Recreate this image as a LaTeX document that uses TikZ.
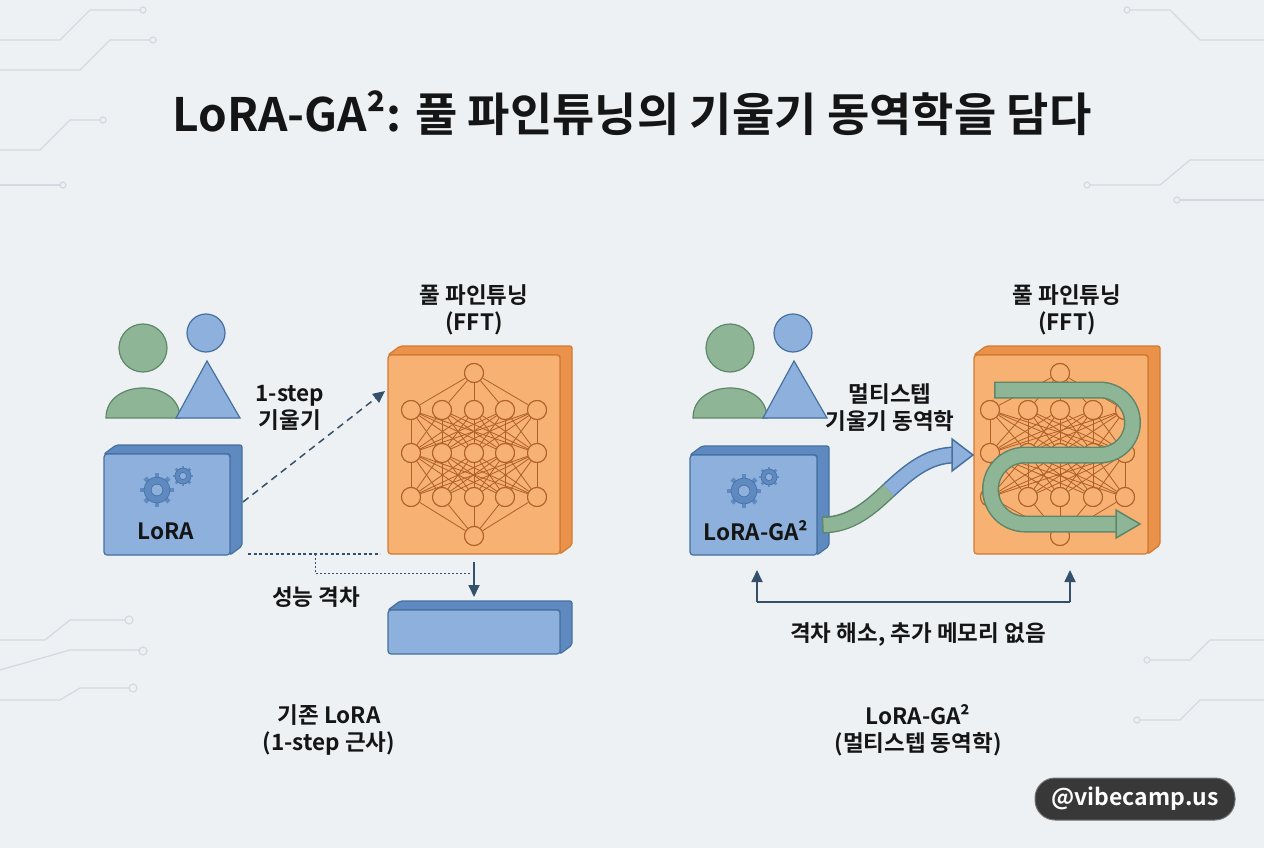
\documentclass[tikz,border=0pt]{standalone}
\usepackage{fontspec}
\setmainfont{Noto Sans CJK KR}[BoldFont={Noto Sans CJK KR Bold}]
\usetikzlibrary{arrows.meta}
\definecolor{bg}{HTML}{EEF1F4}
\definecolor{bfill}{HTML}{8DB0DC}
\definecolor{bside}{HTML}{5F89C1}
\definecolor{bedge}{HTML}{46709F}
\definecolor{ofill}{HTML}{F7B172}
\definecolor{oside}{HTML}{EA9249}
\definecolor{oedge}{HTML}{D27A33}
\definecolor{net}{HTML}{B05F28}
\definecolor{gfill}{HTML}{8FB597}
\definecolor{gedge}{HTML}{5E8769}
\definecolor{dark}{HTML}{34506B}
\definecolor{circ}{HTML}{D3D9E0}
\definecolor{txt}{HTML}{151515}
\tikzset{
 lbl/.style={font=\fontsize{22.5}{27}\selectfont\bfseries, text=txt, align=center},
 nn/.style={circle, draw=net, fill=ofill, line width=1pt, minimum size=19pt, inner sep=0pt},
 nl/.style={draw=net, line width=0.8pt},
 darr/.style={draw=dark, line width=1.8pt, -{Triangle[length=12pt,width=11pt]}},
 cl/.style={draw=circ, line width=1.2pt},
}
\newcommand{\boxthreeD}[7]{% x1 ybottom x2 ytop fill side edge
 \draw[#7, line width=1.2pt, fill=#6, rounded corners=2pt] (#1,#4) -- (#1+12,#4-9) -- (#3+12,#4-9) -- (#3+12,#2-9) -- (#3,#2) -- (#3,#4) -- cycle;
 \draw[#7, line width=1.2pt, fill=#5, rounded corners=3pt] (#1,#2) rectangle (#3,#4);}
\newcommand{\gear}[3]{% x y r
 \begin{scope}[shift={(#1,#2)}]
 \foreach \a in {0,45,...,315}{\fill[bside, rotate=\a] (-0.17*#3,0) rectangle (0.17*#3,1.3*#3);}
 \fill[bside] (0,0) circle (#3);
 \draw[bedge, line width=0.6pt] (0,0) circle (#3);
 \fill[bfill] (0,0) circle (0.45*#3);
 \draw[bedge, line width=0.6pt] (0,0) circle (0.45*#3);
 \end{scope}}
\newcommand{\person}[2]{%
 \begin{scope}[shift={(#1,0)}]
 \draw[gedge, fill=gfill, line width=1.2pt] (0,348) circle (24);
 \draw[gedge, fill=gfill, line width=1.2pt] (-37,418) .. controls (-37,378) and (37,378) .. (37,418) -- cycle;
 \draw[bedge, fill=bfill, line width=1.2pt] (63,333) circle (19);
 \draw[bedge, fill=bfill, line width=1.2pt] (33,418) -- (64,361) -- (97,418) -- cycle;
 \end{scope}}
\begin{document}
\begin{tikzpicture}[x=1pt,y=-1pt]
\fill[bg] (0,0) rectangle (1264,848);
\useasboundingbox (0,0) rectangle (1264,848);
% circuit decorations
\draw[cl] (0,40) -- (60,40) -- (90,10) -- (140,10); \draw[cl] (143,10) circle (3);
\draw[cl] (0,70) -- (80,70) -- (110,40) -- (150,40); \draw[cl] (153,40) circle (3);
\draw[cl] (0,150) -- (40,150) -- (70,120) -- (100,120); \draw[cl] (103,120) circle (3);
\draw[cl] (0,185) -- (60,185); \draw[cl] (63,185) circle (3);
\draw[cl] (1264,40) -- (1200,40) -- (1170,10) -- (1130,10); \draw[cl] (1127,10) circle (3);
\draw[cl] (1264,160) -- (1190,160) -- (1160,185) -- (1090,185); \draw[cl] (1087,185) circle (3);
\draw[cl] (1264,200) -- (1180,200); \draw[cl] (1177,200) circle (3);
\draw[cl] (0,640) -- (45,640) -- (70,620) -- (125,620); \draw[cl] (129,620) circle (4);
\draw[cl] (0,670) -- (70,650) -- (140,650); \draw[cl] (143,651) circle (4);
\draw[cl] (0,700) -- (60,700) -- (80,688) -- (130,688); \draw[cl] (133,688) circle (4);
\draw[cl] (1264,640) -- (1210,640) -- (1190,660) -- (1150,660); \draw[cl] (1147,660) circle (3);
\draw[cl] (1264,700) -- (1200,700) -- (1180,720) -- (1140,720); \draw[cl] (1137,720) circle (3);
% title
\node[font=\fontsize{46}{54}\selectfont\bfseries, text=txt] (title) at (632,113) {LoRA-GA²: 풀 파인튜닝의 기울기 동역학을 담다};
% ===== left
\person{143}{0}
\boxthreeD{104}{555}{230}{454}{bfill}{bside}{bedge}
\gear{157}{490}{13}\gear{183}{476}{8}
\node[lbl] (lora) at (166,531) {LoRA};
\coordinate (loraR) at (243,502);
\node[lbl] (fftL) at (474,310) {풀 파인튜닝\\(FFT)};
\boxthreeD{388}{554}{560}{355}{ofill}{oside}{oedge}
\coordinate (fftLin) at (385,391);
\node[nn] (t) at (474,373) {};
\foreach \r/\y in {1/410,2/453,3/497}{\foreach \i/\x in {1/411,2/442,3/474,4/505,5/537}{\node[nn] (n\r\i) at (\x,\y) {};}}
\node[nn] (b) at (474,536) {};
\foreach \i in {1,...,5}{\draw[nl] (t) -- (n1\i); \draw[nl] (b) -- (n3\i);
 \foreach \j in {1,...,5}{\draw[nl] (n1\i) -- (n2\j); \draw[nl] (n2\i) -- (n3\j);}}
\foreach \r in {1,2,3}{\foreach \i in {1,...,5}{\node[nn] at (n\r\i) {};}}
\node[nn] at (t) {}; \node[nn] at (b) {};
\draw[draw=dark, line width=1.5pt, dash pattern=on 7pt off 5pt, -{Triangle[length=12pt,width=11pt]}] (loraR) -- (fftLin);
\node[lbl] (step) at (290,408) {1-step\\기울기};
\coordinate (g1) at (248,554); \coordinate (g2) at (380,554);
\coordinate (g3) at (315,554); \coordinate (g4) at (315,573); \coordinate (g5) at (470,573);
\draw[dark, line width=1.2pt, dash pattern=on 3pt off 2.5pt] (g1) -- (g2);
\draw[dark, line width=0.8pt, dash pattern=on 2pt off 2pt] (g3) -- (g4) -- (g5);
\coordinate (a1) at (474,562); \coordinate (a2) at (474,597);
\draw[darr] (a1) -- (a2);
\node[lbl] (gap) at (316,597) {성능 격차};
\boxthreeD{388}{654}{560}{610}{bfill}{bside}{bedge}
\node[lbl] (capL) at (329,730) {기존 LoRA\\(1-step 근사)};
% ===== right
\person{730}{0}
\boxthreeD{690}{555}{817}{455}{bfill}{bside}{bedge}
\gear{744}{491}{13}\gear{769}{477}{8}
\node[lbl] (lga) at (756,531) {LoRA-GA²};
\node[lbl] (fftR) at (1067,310) {풀 파인튜닝\\(FFT)};
\boxthreeD{974}{554}{1148}{355}{ofill}{oside}{oedge}
\node[nn] (tt) at (1060,373) {};
\foreach \r/\y in {1/410,2/453,3/497}{\foreach \i/\x in {1/990,2/1028,3/1060,4/1093,5/1125}{\node[nn] (m\r\i) at (\x,\y) {};}}
\node[nn] (bb) at (1060,536) {};
\foreach \i in {1,...,5}{\draw[nl] (tt) -- (m1\i); \draw[nl] (bb) -- (m3\i);
 \foreach \j in {1,...,5}{\draw[nl] (m1\i) -- (m2\j); \draw[nl] (m2\i) -- (m3\j);}}
\foreach \r in {1,2,3}{\foreach \i in {1,...,5}{\node[nn] at (m\r\i) {};}}
\node[nn] at (tt) {}; \node[nn] at (bb) {};
% snake arrow
\coordinate (s0) at (994,390); \coordinate (s1) at (1100,390);
\coordinate (s3) at (1025,455); \coordinate (s5) at (1118,524);
\draw[gedge, line width=17pt] (s0) -- (s1) arc[start angle=-90, end angle=90, radius=32.5] -- (s3) arc[start angle=270, end angle=90, radius=34.5] -- (s5);
\draw[gfill, line width=14pt] ([xshift=1.5pt]s0) -- (s1) arc[start angle=-90, end angle=90, radius=32.5] -- (s3) arc[start angle=270, end angle=90, radius=34.5] -- (s5);
\draw[gedge, fill=gfill, line width=1.5pt] (1116,510) -- (1140,524) -- (1116,538) -- cycle;
% wave arrow
\coordinate (w0) at (822,525); \coordinate (wm) at (889,490); \coordinate (w1) at (955,455);
\draw[gedge, line width=17pt] (w0) .. controls (851,525) and (870.5,507.5) .. (wm);
\draw[bedge, line width=17pt] (wm) .. controls (908,472.5) and (927.5,455) .. (w1);
\draw[gfill, line width=14pt] ([xshift=1.5pt]w0) .. controls (851,525) and (870.5,507.5) .. (wm);
\draw[bfill, line width=14pt] (wm) .. controls (908,472.5) and (927.5,455) .. (w1);
\draw[bedge, fill=bfill, line width=1.5pt] (952,439) -- (973,455) -- (952,471) -- cycle;
\node[lbl] (multi) at (890,408) {멀티스텝\\기울기 동역학};
% bottom bracket arrows
\coordinate (c1) at (757,602); \coordinate (c2) at (757,570);
\coordinate (c3) at (1070,602); \coordinate (c4) at (1070,570);
\draw[dark, line width=1.8pt] (c1) -- (c3);
\draw[darr] (c1) -- (c2);
\draw[darr] (c3) -- (c4);
\node[lbl] (resolve) at (918,634) {격차 해소, 추가 메모리 없음};
\node[lbl] (capR) at (918,730) {LoRA-GA²\\(멀티스텝 동역학)};
% badge
\node[fill=black!78, draw=black!55, line width=1pt, rounded corners=20pt, minimum width=200pt, minimum height=42pt, text=white, font=\fontsize{23}{27}\selectfont\bfseries] (badge) at (1135,799) {@vibecamp.us};
\end{tikzpicture}
\end{document}
